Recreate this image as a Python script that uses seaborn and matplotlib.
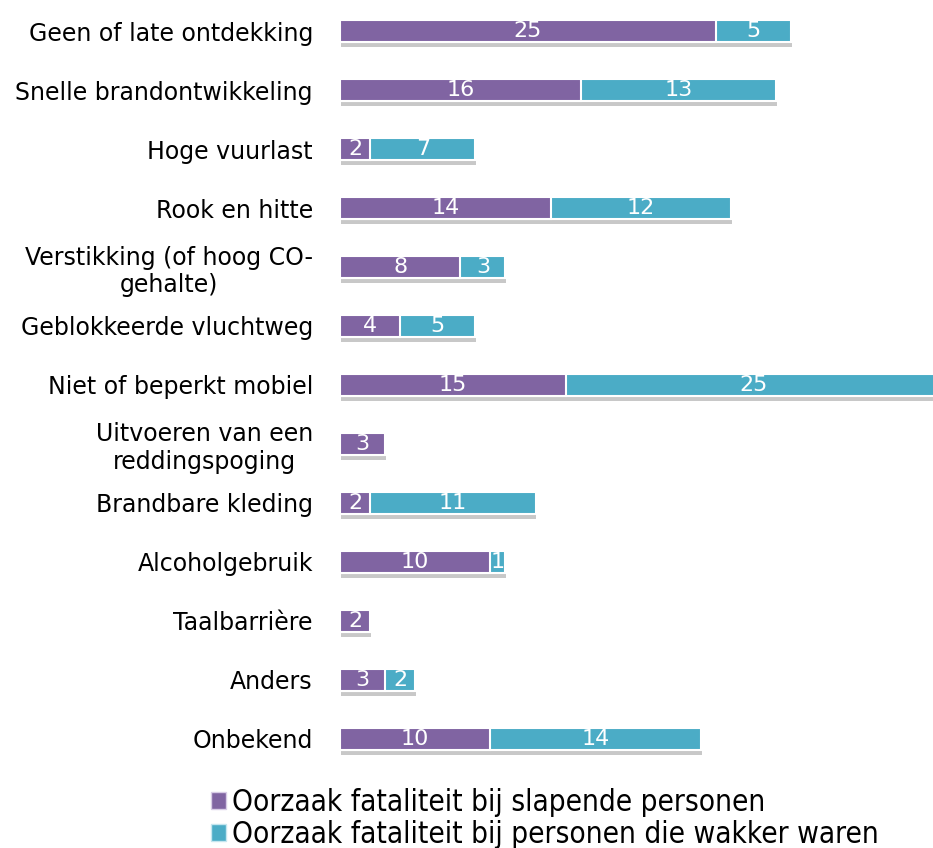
import pandas as pd
import matplotlib.pyplot as plt
import matplotlib.patheffects as pe
from matplotlib.patches import Patch
import seaborn as sns

# oorzaken van fatale afloop, slapend vs wakker
causes = ['Geen of late ontdekking', 'Snelle brandontwikkeling', 'Hoge vuurlast',
          'Rook en hitte', 'Verstikking (of hoog CO-\ngehalte)', 'Geblokkeerde vluchtweg',
          'Niet of beperkt mobiel', 'Uitvoeren van een\nreddingspoging', 'Brandbare kleding',
          'Alcoholgebruik', 'Taalbarrière', 'Anders', 'Onbekend']
asleep = [25, 16, 2, 14, 8, 4, 15, 3, 2, 10, 2, 3, 10]
awake = [5, 13, 7, 12, 3, 5, 25, 0, 11, 1, 0, 2, 14]

legend_labels = ['Oorzaak fataliteit bij slapende personen',
                 'Oorzaak fataliteit bij personen die wakker waren']
purple = '#8064A2'
teal = '#4BACC6'

df = pd.DataFrame({'cause': causes, 'asleep': asleep, 'awake': awake})
df['total'] = df['asleep'] + df['awake']

sns.set_style('white')
plt.rcParams['font.family'] = ['DejaVu Sans']

fig = plt.figure(figsize=(9.33, 8.48), dpi=100)
ax = fig.add_axes([0.3644, 0.0938, 0.6356, 0.9044])

shadow = [pe.SimplePatchShadow(offset=(0.5, -3.5), shadow_rgbFace='#777777', alpha=0.4), pe.Normal()]

# totaal in teal, slapend in paars er overheen -> gestapelde balk
sns.barplot(data=df, y='cause', x='total', color=teal, saturation=1, width=0.38,
            edgecolor='white', linewidth=1.5, orient='h', ax=ax)
sns.barplot(data=df, y='cause', x='asleep', color=purple, saturation=1, width=0.38,
            edgecolor='white', linewidth=1.5, orient='h', ax=ax)

for bar in ax.containers[0]:
    bar.set_path_effects(shadow)

for i, row in df.iterrows():
    if row['asleep'] > 0:
        ax.text(row['asleep'] / 2, i, str(row['asleep']), color='white', fontsize=16,
                ha='center', va='center')
    if row['awake'] > 0:
        ax.text(row['asleep'] + row['awake'] / 2, i, str(row['awake']), color='white',
                fontsize=16, ha='center', va='center')

ax.set_xlim(0, 39.43)
ax.set_ylim(12.5, -0.5)
ax.set_xlabel('')
ax.set_ylabel('')
ax.set_xticks([])
ax.tick_params(axis='y', length=0, pad=19.5, labelsize=17, labelcolor='black')
for lbl in ax.get_yticklabels():
    lbl.set_multialignment('center')
sns.despine(ax=ax, left=True, bottom=True)

handles = [Patch(facecolor=purple, edgecolor='#d8cce6'), Patch(facecolor=teal, edgecolor='#c6e6ef')]
leg = fig.legend(handles, legend_labels, loc='upper left', bbox_to_anchor=(0.226, 0.071),
                 frameon=False, handlelength=0.5, handleheight=0.5, handletextpad=0.2,
                 labelspacing=0.12, borderpad=0, borderaxespad=0,
                 prop={'family': 'DejaVu Sans', 'stretch': 'condensed', 'size': 21.3})
for t in leg.get_texts():
    t.set_color('black')

fig.savefig('out.png', dpi=100)
